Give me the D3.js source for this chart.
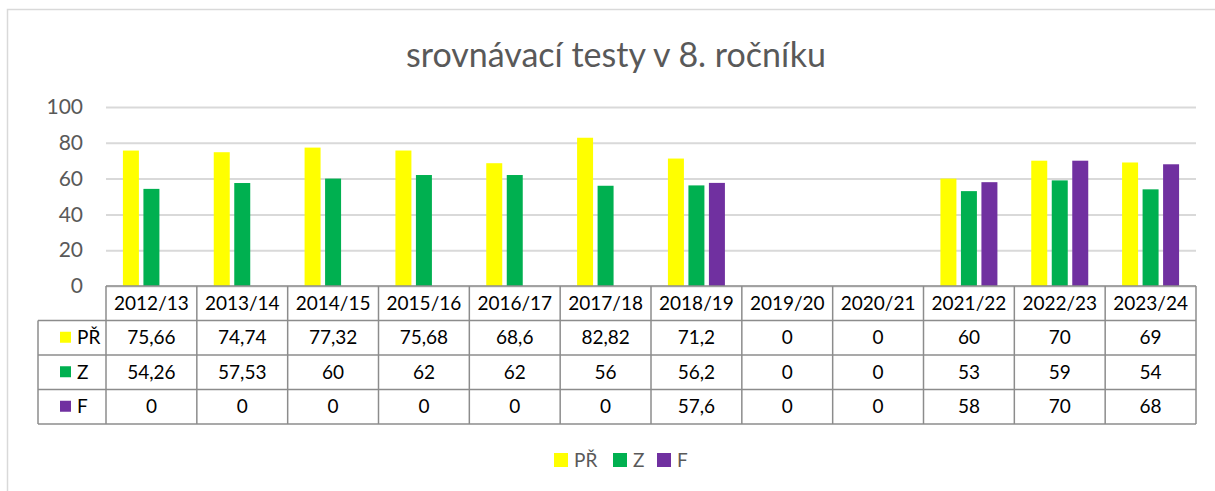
<!DOCTYPE html>
<html>
<head>
<meta charset="utf-8">
<script src="https://cdn.jsdelivr.net/npm/d3@7"></script>
<style>
    body { margin: 0; background: #fff; }
    svg { display: block; font-family: Lato, "Open Sans", sans-serif; }
</style>
</head>
<body>
<div id="chart"></div>
<script>
const years = ["2012/13", "2013/14", "2014/15", "2015/16", "2016/17", "2017/18", "2018/19", "2019/20", "2020/21", "2021/22", "2022/23", "2023/24"];
const seriesNames = ["PŘ", "Z", "F"];
const seriesColors = ["#ffff00", "#00b050", "#7030a0"];
const valuesPR = [75.66, 74.74, 77.32, 75.68, 68.6, 82.82, 71.2, 0, 0, 60, 70, 69];
const valuesZ = [54.26, 57.53, 60, 62, 62, 56, 56.2, 0, 0, 53, 59, 54];
const valuesF = [0, 0, 0, 0, 0, 0, 57.6, 0, 0, 58, 70, 68];
const yTicks = [0, 20, 40, 60, 80, 100];
const titleText = "srovnávací testy v 8. ročníku";

const allValues = [valuesPR, valuesZ, valuesF];

const width = 1215, height = 491;
const plot = { left: 106, right: 1196, top: 107, bottom: 286 };
const rowH = 34.5;

const svg = d3.select("#chart")
    .append("svg")
    .attr("width", width)
    .attr("height", height);

// chart frame
svg.append("rect")
    .attr("x", 7.5).attr("y", 9.5)
    .attr("width", width).attr("height", height)
    .attr("fill", "none")
    .attr("stroke", "#d9d9d9")
    .attr("stroke-width", 1.5);

svg.append("text")
    .attr("x", 616).attr("y", 67)
    .attr("text-anchor", "middle")
    .attr("font-size", 34)
    .attr("fill", "#595959")
    .text(titleText);

let x = d3.scaleBand()
    .domain(years)
    .range([plot.left, plot.right]);

let y = d3.scaleLinear()
    .domain([0, 100])
    .range([plot.bottom, plot.top]);

let xInner = d3.scaleBand()
    .domain(seriesNames)
    .range([-28.5, 28.5])
    .paddingInner(0.22);

// gridlines + y labels
let yAxis = d3.axisLeft(y)
    .tickValues(yTicks)
    .tickSize(-(plot.right - plot.left))
    .tickPadding(23);

let yAxisGroup = svg.append("g")
    .attr("class", "y-axis")
    .attr("transform", `translate(${plot.left}, 0)`)
    .call(yAxis);
yAxisGroup.select(".domain").remove();
yAxisGroup.selectAll(".tick line")
    .attr("stroke", "#d9d9d9")
    .attr("stroke-width", 2);
yAxisGroup.selectAll(".tick text")
    .attr("font-size", 21)
    .attr("font-family", "Lato, 'Open Sans', sans-serif")
    .attr("fill", "#595959");

// bars
seriesNames.forEach(function(name, s) {
    svg.append("g")
        .selectAll("rect")
        .data(allValues[s])
        .join("rect")
        .attr("x", function(d, i) { return x(years[i]) + x.bandwidth() / 2 + xInner(name); })
        .attr("y", function(d) { return y(d); })
        .attr("width", xInner.bandwidth())
        .attr("height", function(d) { return y(0) - y(d); })
        .attr("fill", seriesColors[s]);
});

// data table
let table = svg.append("g").attr("class", "data-table");
let tableLeft = 38;
let tableBottom = plot.bottom + rowH * 4;
let lineColor = "#8c8c8c";

function hLine(x1, x2, yy) {
    table.append("line")
        .attr("x1", x1).attr("x2", x2).attr("y1", yy).attr("y2", yy)
        .attr("stroke", lineColor).attr("stroke-width", 1.5);
}
function vLine(xx, y1, y2) {
    table.append("line")
        .attr("x1", xx).attr("x2", xx).attr("y1", y1).attr("y2", y2)
        .attr("stroke", lineColor).attr("stroke-width", 1.5);
}

hLine(plot.left, plot.right, plot.bottom);
for (let r = 1; r <= 4; r++) hLine(tableLeft, plot.right, plot.bottom + rowH * r);
vLine(tableLeft, plot.bottom + rowH, tableBottom);
years.forEach(function(yr) { vLine(x(yr), plot.bottom, tableBottom); });
vLine(plot.right, plot.bottom, tableBottom);

table.selectAll(".hdr")
    .data(years)
    .join("text")
    .attr("class", "hdr")
    .attr("x", function(d) { return x(d) + x.bandwidth() / 2; })
    .attr("y", plot.bottom + rowH / 2)
    .attr("dy", "0.35em")
    .attr("text-anchor", "middle")
    .attr("font-size", 19)
    .attr("fill", "#000")
    .text(function(d) { return d; });

let fmt = function(v) { return String(v).replace(".", ","); };

seriesNames.forEach(function(name, s) {
    let rowY = plot.bottom + rowH * (s + 1) + rowH / 2;
    table.append("rect")
        .attr("x", 60).attr("y", rowY - 6)
        .attr("width", 11).attr("height", 11)
        .attr("fill", seriesColors[s]);
    table.append("text")
        .attr("x", 77).attr("y", rowY)
        .attr("dy", "0.35em")
        .attr("font-size", 19)
        .attr("fill", "#000")
        .text(name);
    table.append("g")
        .selectAll("text")
        .data(allValues[s])
        .join("text")
        .attr("x", function(d, i) { return x(years[i]) + x.bandwidth() / 2; })
        .attr("y", rowY)
        .attr("dy", "0.35em")
        .attr("text-anchor", "middle")
        .attr("font-size", 19)
        .attr("fill", "#000")
        .text(function(d) { return fmt(d); });
});

// legend
let legendX = [554, 613, 657];
let legend = svg.append("g").attr("class", "legend");
seriesNames.forEach(function(name, s) {
    legend.append("rect")
        .attr("x", legendX[s]).attr("y", 453)
        .attr("width", 14).attr("height", 14)
        .attr("fill", seriesColors[s]);
    legend.append("text")
        .attr("x", legendX[s] + 20).attr("y", 460)
        .attr("dy", "0.35em")
        .attr("font-size", 19)
        .attr("fill", "#595959")
        .text(name);
});
</script>
</body>
</html>
